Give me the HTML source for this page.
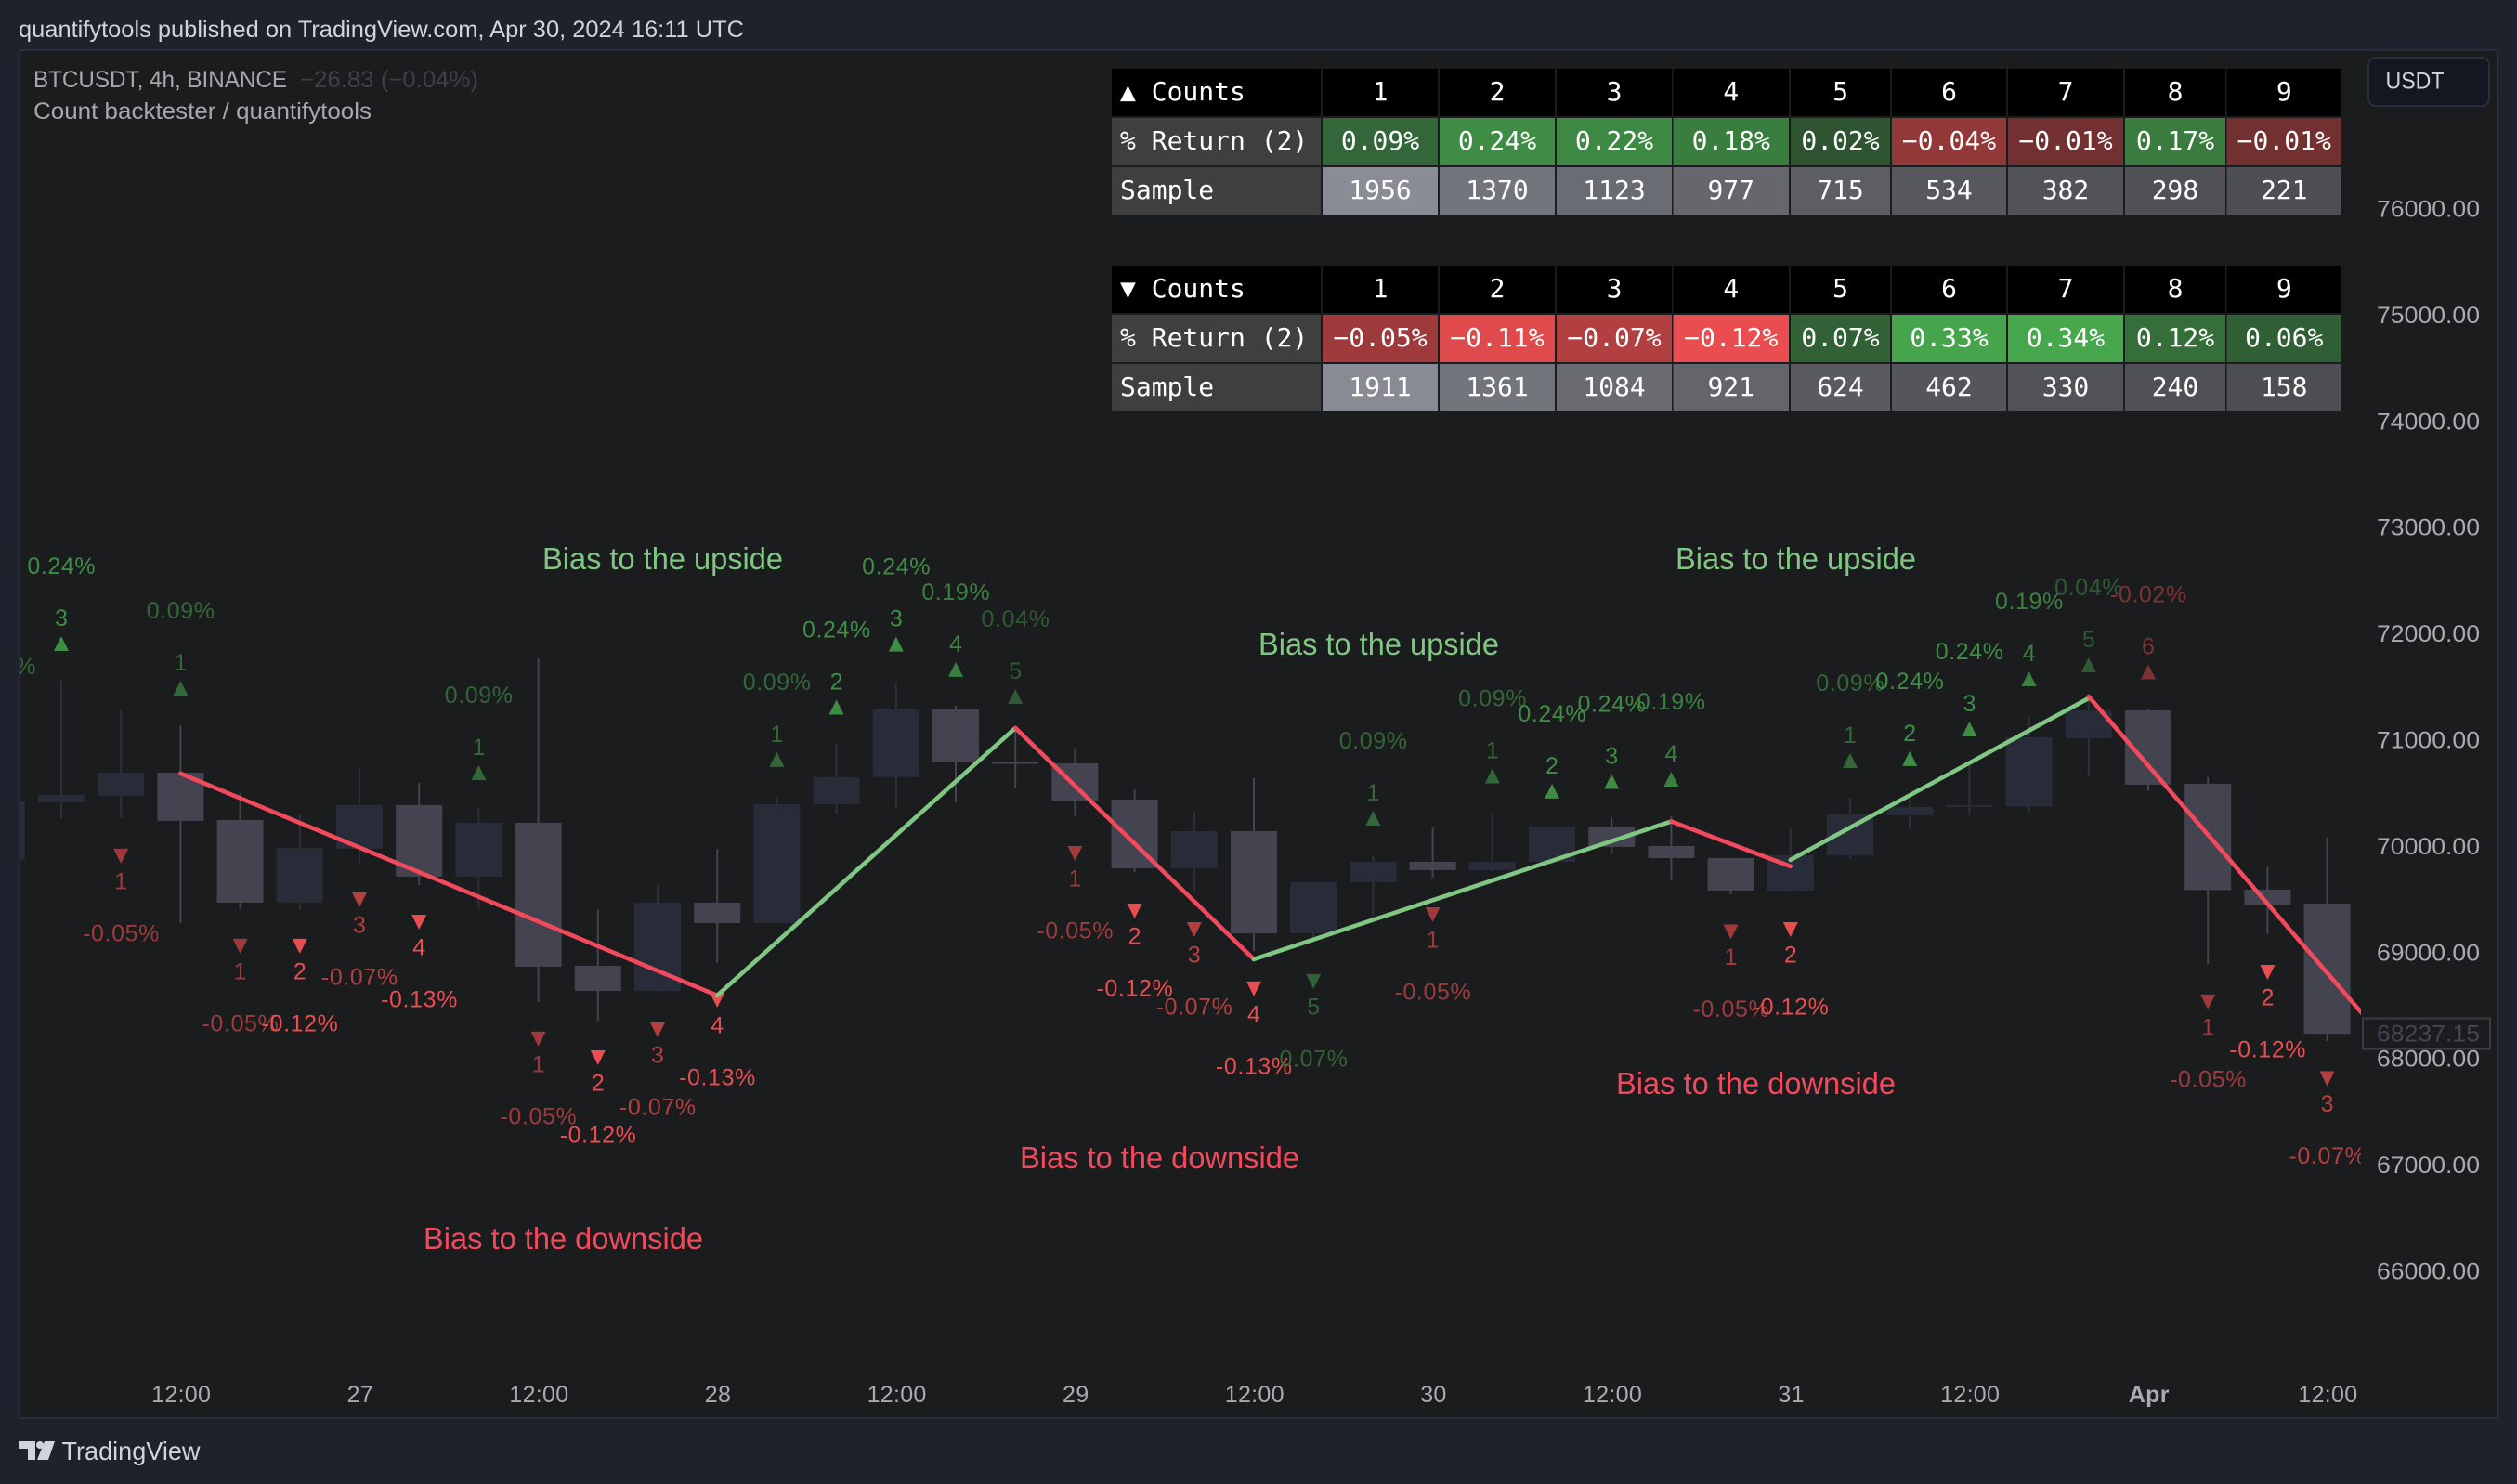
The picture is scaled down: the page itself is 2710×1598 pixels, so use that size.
<!DOCTYPE html>
<html lang="en">
<head>
<meta charset="utf-8">
<title>BTCUSDT 4h Count backtester</title>
<style>
html,body{margin:0;padding:0;width:2710px;height:1598px;overflow:hidden;background:#1e222d}
svg{position:absolute;left:0;top:0;display:block}
text{font-family:"Liberation Sans",sans-serif}
.mono{font-family:"DejaVu Sans Mono","Liberation Mono",monospace;font-size:28px}
</style>
</head>
<body>
<svg id="chart" xmlns="http://www.w3.org/2000/svg" width="2710" height="1598" viewBox="0 0 2710 1598">
  <defs>
    <clipPath id="plot-clip"><rect x="22" y="55" width="2520" height="1430"/></clipPath>
  </defs>
  <rect x="0" y="0" width="2710" height="1598" fill="#1e222d"/>
  <rect x="21" y="54" width="2668" height="1473" fill="#1b1c1e" stroke="#2a2e39" stroke-width="2"/>
  <text x="20" y="40" font-size="25" fill="#d1d4dc" textLength="781" lengthAdjust="spacingAndGlyphs">quantifytools published on TradingView.com, Apr 30, 2024 16:11 UTC</text>
  <text x="36" y="94" font-size="25" fill="#a6a8ae" textLength="273" lengthAdjust="spacingAndGlyphs">BTCUSDT, 4h, BINANCE</text>
  <text x="323" y="94" font-size="25" fill="#3f4049" textLength="192" lengthAdjust="spacingAndGlyphs">−26.83 (−0.04%)</text>
  <text x="36" y="128" font-size="25" fill="#a6a8ae" textLength="364" lengthAdjust="spacingAndGlyphs">Count backtester / quantifytools</text>

  <g id="candles" clip-path="url(#plot-clip)"></g>
  <g id="signals" clip-path="url(#plot-clip)"></g>
  <g id="zigzag" clip-path="url(#plot-clip)"></g>

  <g font-size="33">
    <text x="584" y="613" fill="#81c784" textLength="259" lengthAdjust="spacingAndGlyphs">Bias to the upside</text>
    <text x="1355" y="705" fill="#81c784" textLength="259" lengthAdjust="spacingAndGlyphs">Bias to the upside</text>
    <text x="1804" y="613" fill="#81c784" textLength="259" lengthAdjust="spacingAndGlyphs">Bias to the upside</text>
    <text x="456" y="1345" fill="#f2495c" textLength="301" lengthAdjust="spacingAndGlyphs">Bias to the downside</text>
    <text x="1098" y="1258" fill="#f2495c" textLength="301" lengthAdjust="spacingAndGlyphs">Bias to the downside</text>
    <text x="1740" y="1178" fill="#f2495c" textLength="301" lengthAdjust="spacingAndGlyphs">Bias to the downside</text>
  </g>

  <g id="tables"></g>
  <g id="price-axis"></g>
  <g id="time-axis"></g>

  <g>
    <rect x="2550" y="62" width="130" height="52" rx="8" fill="#131722" stroke="#2a2e39" stroke-width="2"/>
    <text x="2568.5" y="95.5" font-size="25" fill="#d1d4dc" textLength="63" lengthAdjust="spacingAndGlyphs">USDT</text>
  </g>

  <g>
    <path fill="#d1d4dc" d="M20 1552H38V1572H30V1560H20Z M48 1552H59L52 1572H40Z"/>
    <circle cx="43" cy="1556" r="4" fill="#d1d4dc"/>
    <text x="66.5" y="1572" font-size="28" fill="#d1d4dc" textLength="149" lengthAdjust="spacingAndGlyphs">TradingView</text>
  </g>
</svg>

<script>
// ---- candle data (bar index starts at -1, partly clipped on the left) ----
const candleOpen  = [69873,70415,70476,70694,70249,69471,69978,70389,69716,70222,68876,68640,69471,69278,70397,70651,71289,70799,70782,70441,69794,70144,69182,69663,69855,69777,69855,70183,70004,69890,69584,69917,70292,70371,70376,71018,71280,70590,69593,69462];
const candleHigh  = [70500,71560,71280,71140,70502,70310,70738,70598,70362,71770,69410,69637,69978,70467,70965,71551,71324,71123,70922,70537,70319,70642,69663,69917,70179,70319,70188,70275,70284,69890,70170,70458,70441,70782,71228,71411,71298,70651,69803,70083];
const candleLow   = [69800,70266,70266,69278,69410,69401,69838,69637,69410,68535,68361,68631,68903,69278,70301,70354,70415,70546,70284,69759,69576,69016,69095,69322,69707,69759,69829,69930,69681,69549,69576,69882,70161,70292,70327,70651,70524,68894,69174,68168];
const candleClose = [70424,70485,70694,70240,69471,69986,70389,69716,70222,68868,68640,69471,69278,70397,70651,71289,70799,70776,70432,69794,70144,69182,69663,69855,69777,69855,70188,69995,69890,69584,69917,70301,70371,70389,71027,71280,70581,69589,69453,68237.15];
const lastPrice = 68237.15;

// ---- zigzag legs ----
const legStartBar   = [2,11,16,20,27,29,34];
const legStartPrice = [70686,68597,71114,68938,70235,69873,71411];
const legEndBar     = [11,16,20,27,29,34,39];
const legEndPrice   = [68597,71114,68938,70235,69812,71394,68159];

// ---- count signals ----
const signalBars    = [-1,0,2,7,12,13,14,15,16,22,24,25,26,27,30,31,32,33,34,35,1,3,4,5,6,8,9,10,11,17,18,19,20,21,23,28,29,36,37,38];
const signalUp      = [1,1,1,1,1,1,1,1,1,1,1,1,1,1,1,1,1,1,1,1,0,0,0,0,0,0,0,0,0,0,0,0,0,0,0,0,0,0,0,0];
const signalCounts  = [2,3,1,1,1,2,3,4,5,1,1,2,3,4,1,2,3,4,5,6,1,1,2,3,4,1,2,3,4,1,2,3,4,5,1,1,2,1,2,3];
const signalReturns = [0.09,0.24,0.09,0.09,0.09,0.24,0.24,0.19,0.04,0.09,0.09,0.24,0.24,0.19,0.09,0.24,0.24,0.19,0.04,-0.02,-0.05,-0.05,-0.12,-0.07,-0.13,-0.05,-0.12,-0.07,-0.13,-0.05,-0.12,-0.07,-0.13,0.07,-0.05,-0.05,-0.12,-0.05,-0.12,-0.07];
const signalPrices  = [70966,71909,71490,70694,70817,71310,71904,71665,71411,70266,70664,70520,70611,70633,70808,70826,71105,71577,71708,71643,69908,69060,69060,69497,69287,68186,68011,68273,68553,69934,69392,69217,68658,68728,69357,69195,69217,68536,68815,67814];

// ---- tables ----
const countLabels = [1,2,3,4,5,6,7,8,9];
const upReturns   = [0.09,0.24,0.22,0.18,0.02,-0.04,-0.01,0.17,-0.01];
const upSamples   = [1956,1370,1123,977,715,534,382,298,221];
const downReturns = [-0.05,-0.11,-0.07,-0.12,0.07,0.33,0.34,0.12,0.06];
const downSamples = [1911,1361,1084,921,624,462,330,240,158];

// ---- axes ----
const priceTicks = [76000,75000,74000,73000,72000,71000,70000,69000,68000,67000,66000];
const timeBars   = [2,5,8,11,14,17,20,23,26,29,32,35,38];
const timeLabels = ["12:00","27","12:00","28","12:00","29","12:00","30","12:00","31","12:00","Apr","12:00"];

// ---- axis functions ----
function xOf(bar){ return 66 + 64.2 * bar; }
function yOf(price){ return 225 + (76000 - price) * 0.1144; }

const NS = "http://www.w3.org/2000/svg";
function make(tag, attrs, parent){
  const e = document.createElementNS(NS, tag);
  for (const k in attrs) e.setAttribute(k, attrs[k]);
  parent.appendChild(e);
  return e;
}
function mix(a, b, t){
  const c = a.map((v, i) => Math.round(v + (b[i] - v) * t));
  return "rgb(" + c.join(",") + ")";
}
function returnColor(v){
  if (v >= 0) return mix([44,79,48],[71,167,77],Math.min(v / 0.34, 1));
  return mix([103,45,46],[234,77,79],Math.min(-v / 0.12, 1));
}
function sampleColor(n){
  const t = Math.pow(Math.max(n - 150, 0) / 1806, 1.2);
  return mix([76,78,83],[139,141,150],Math.min(t, 1));
}

// candles
const candleG = document.getElementById("candles");
candleOpen.forEach(function(open, k){
  const bar = k - 1;
  const close = candleClose[k];
  const color = close >= open ? "#282c38" : "#43444f";
  const x = xOf(bar);
  const wick = make("rect", {x: x - 1, y: yOf(candleHigh[k]), width: 2, height: yOf(candleLow[k]) - yOf(candleHigh[k]), fill: close >= open ? "#2c303c" : "#43444f"}, candleG);
  
  
  const top = yOf(Math.max(open, close));
  const h = Math.max(yOf(Math.min(open, close)) - top, 2);
  const body = make("rect", {x: x - 25, y: top, width: 50, height: h, fill: color}, candleG);
  
  
});

// signals
const signalG = document.getElementById("signals");
signalBars.forEach(function(bar, k){
  const x = xOf(bar);
  const y = yOf(signalPrices[k]);
  const up = signalUp[k] === 1;
  const ret = signalReturns[k];
  const color = returnColor(ret);
  const pts = up
    ? [x, y - 8, x + 8, y + 8, x - 8, y + 8]
    : [x - 8, y - 8, x + 8, y - 8, x, y + 8];
  const tri = make("polygon", {points: pts.join(" "), fill: color}, signalG);
  
  
  const num = make("text", {x: x + 0.3, y: y + (up ? -27.5 : 27) + 8.5, "font-size": 25, fill: color, "text-anchor": "middle", "letter-spacing": "0.6"}, signalG);
  num.textContent = String(signalCounts[k]);
  
  
  const pct = make("text", {x: x + 0.3, y: y + (up ? -83.5 : 83) + 8.5, "font-size": 25, fill: color, "text-anchor": "middle", "letter-spacing": "0.6"}, signalG);
  pct.textContent = ret.toFixed(2) + "%";
  
  
});

// zigzag
const zigG = document.getElementById("zigzag");
legStartBar.forEach(function(startBar, k){
  const rising = legEndPrice[k] > legStartPrice[k];
  const leg = make("line", {
    x1: xOf(startBar), y1: yOf(legStartPrice[k]),
    x2: xOf(legEndBar[k]), y2: yOf(legEndPrice[k]),
    stroke: rising ? "#81c784" : "#f2495c",
    "stroke-width": 4.6, "stroke-linecap": "round"
  }, zigG);
  
  
});

// tables
const tablesG = document.getElementById("tables");
const colStart = [1424,1550,1676,1801.5,1928,2037,2162,2288,2397.5];
const colWidth = [124,124,124,124.5,107,123,124,108,123.5];
function cellRect(x, y, w, fill, name){
  const r = make("rect", {x: x, y: y, width: w, height: 51, fill: fill}, tablesG);
  
  
}
function cellText(x, y, str, anchor, name){
  const t = make("text", {x: x, y: y + 34, fill: "#ffffff", "text-anchor": anchor, "class": "mono"}, tablesG);
  t.textContent = str;
  
  
}
function drawTable(top, glyph, returns, samples){
  const rows = [top, top + 53, top + 106];
  cellRect(1197, rows[0], 225, "#000000", "table-header-label-cell");
  cellRect(1197, rows[1], 225, "#3f3f3f", "table-return-label-cell");
  cellRect(1197, rows[2], 225, "#3f3f3f", "table-sample-label-cell");
  cellText(1206, rows[0], glyph + " Counts", "start", "table-header-label");
  cellText(1206, rows[1], "% Return (2)", "start", "table-return-label");
  cellText(1206, rows[2], "Sample", "start", "table-sample-label");
  countLabels.forEach(function(label, k){
    const x = colStart[k], w = colWidth[k], c = x + w / 2;
    cellRect(x, rows[0], w, "#000000", "count-header-cell");
    cellText(c, rows[0], String(label), "middle", "count-header-value");
    cellRect(x, rows[1], w, returnColor(returns[k]), "return-cell");
    cellText(c, rows[1], returns[k].toFixed(2).replace("-", "\u2212") + "%", "middle", "return-value");
    cellRect(x, rows[2], w, sampleColor(samples[k]), "sample-cell");
    cellText(c, rows[2], String(samples[k]), "middle", "sample-value");
  });
}
drawTable(74, "\u25B2", upReturns, upSamples);
drawTable(286, "\u25BC", downReturns, downSamples);

// price axis
const priceG = document.getElementById("price-axis");
priceTicks.forEach(function(p){
  const t = make("text", {x: 2559, y: yOf(p) + 8.5, "font-size": 25, fill: "#a9abb2", textLength: 111, lengthAdjust: "spacingAndGlyphs"}, priceG);
  t.textContent = p.toFixed(2);
  
  
});
const lastBox = make("rect", {x: 2544, y: yOf(lastPrice) - 16.5, width: 137, height: 33, fill: "#1b1c1e", stroke: "#3a3c46", "stroke-width": 2}, priceG);


const lastText = make("text", {x: 2559, y: yOf(lastPrice) + 8.5, "font-size": 25, fill: "#43454f", textLength: 111, lengthAdjust: "spacingAndGlyphs"}, priceG);
lastText.textContent = lastPrice.toFixed(2);



// time axis
const timeG = document.getElementById("time-axis");
timeBars.forEach(function(bar, k){
  const label = timeLabels[k];
  const isMonth = label === "Apr";
  const t = make("text", {x: xOf(bar) + 0.8, y: 1510, "font-size": 25, fill: "#a9abb2", "text-anchor": "middle", "letter-spacing": "0.3", "font-weight": isMonth ? "700" : "400"}, timeG);
  t.textContent = label;
  
  
});
</script>
</body>
</html>
